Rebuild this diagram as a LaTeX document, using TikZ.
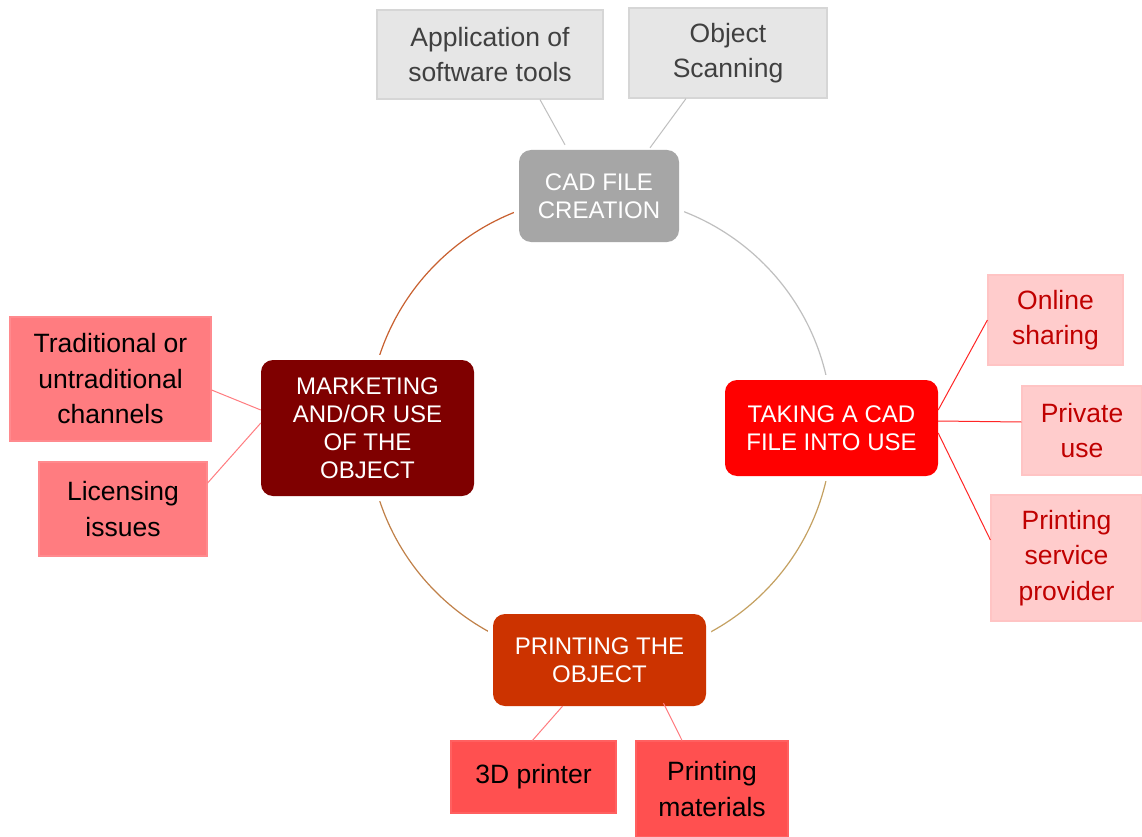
\documentclass[tikz,border=0pt]{standalone}
\usepackage{fontspec}
\setmainfont{Liberation Sans}
\usetikzlibrary{calc}
\definecolor{cadgray}{HTML}{A6A6A6}
\definecolor{takered}{HTML}{FF0000}
\definecolor{printorange}{HTML}{CC3300}
\definecolor{markmaroon}{HTML}{7F0000}
\definecolor{leafgray}{HTML}{E6E6E6}
\definecolor{leafgrayline}{HTML}{D6D6D6}
\definecolor{leafpale}{HTML}{FFCCCC}
\definecolor{leafpaleline}{HTML}{FFC4C4}
\definecolor{leafsalmon}{HTML}{FF7C80}
\definecolor{leafsalmonline}{HTML}{FF8A8E}
\definecolor{leafred}{HTML}{FF5050}
\definecolor{leafredline}{HTML}{FF6060}
\definecolor{txtgray}{HTML}{404040}
\definecolor{txtred}{HTML}{C00000}
\definecolor{arcTRc}{HTML}{BFBFBF}
\definecolor{arcBRc}{HTML}{C4A060}
\definecolor{arcBLc}{HTML}{C08048}
\definecolor{arcTLc}{HTML}{C8602F}
\begin{document}
\begin{tikzpicture}[x=1pt,y=-1pt,
  hub/.style={rounded corners=12pt, text=white, align=center, inner sep=0pt,
    font=\fontsize{24}{28}\selectfont,
    preaction={draw=white, line width=10pt}},
  leaf/.style={line width=1.2pt, align=center, inner sep=0pt,
    font=\fontsize{26.5}{35.5}\selectfont},
  grayleaf/.style={leaf, fill=leafgray, draw=leafgrayline, text=txtgray},
  paleleaf/.style={leaf, fill=leafpale, draw=leafpaleline, text=txtred},
  salmonleaf/.style={leaf, fill=leafsalmon, draw=leafsalmonline, text=black},
  redleaf/.style={leaf, fill=leafred, draw=leafredline, text=black},
  graylink/.style={draw=arcTRc, line width=1pt},
  redlink/.style={draw=red!85, line width=1pt},
  pinklink/.style={draw=leafsalmon, line width=1pt},
  ring/.style={line width=1.2pt}
]
\useasboundingbox (0,0) rectangle (1142,837);
\fill[white] (0,0) rectangle (1142,837);

% ring
\coordinate (O) at (600,428);
\draw[ring, arcTRc] ($(O)+(90:232pt)$) arc[start angle=90, end angle=0, radius=232pt];
\draw[ring, arcBRc] ($(O)+(0:232pt)$) arc[start angle=0, end angle=-90, radius=232pt];
\draw[ring, arcBLc] ($(O)+(-90:232pt)$) arc[start angle=-90, end angle=-180, radius=232pt];
\draw[ring, arcTLc] ($(O)+(180:232pt)$) arc[start angle=180, end angle=90, radius=232pt];

% hubs
\node[hub, fill=cadgray, minimum width=160pt, minimum height=92pt] (cad) at (599,196) {CAD FILE\\CREATION};
\node[hub, fill=takered, minimum width=213pt, minimum height=96pt] (take) at (831.5,428) {TAKING A CAD\\FILE INTO USE};
\node[hub, fill=printorange, minimum width=213pt, minimum height=92pt] (print) at (599.5,660) {PRINTING THE\\OBJECT};
\node[hub, fill=markmaroon, minimum width=213pt, minimum height=136pt] (mark) at (367.5,428) {MARKETING\\AND/OR USE\\OF THE\\OBJECT};

% leaves
\node[grayleaf, minimum width=226pt, minimum height=89pt] (app) at (490,54.5) {Application of\\software tools};
\node[grayleaf, minimum width=198pt, minimum height=90pt] (scan) at (728,53) {Object\\Scanning};
\node[paleleaf, minimum width=135pt, minimum height=90pt] (online) at (1055.5,320) {Online\\sharing};
\node[paleleaf, minimum width=120pt, minimum height=89pt] (private) at (1082,430.5) {Private\\use};
\node[paleleaf, minimum width=151pt, minimum height=126pt] (pserv) at (1066.5,558) {Printing\\service\\provider};
\node[salmonleaf, minimum width=201pt, minimum height=124pt] (trad) at (110.5,379) {Traditional or\\untraditional\\channels};
\node[salmonleaf, minimum width=168pt, minimum height=94pt] (lic) at (123,509) {Licensing\\issues};
\node[redleaf, minimum width=165pt, minimum height=72pt] (p3d) at (533.5,777) {3D printer};
\node[redleaf, minimum width=152pt, minimum height=96pt] (pmat) at (712,789) {Printing\\materials};

% links
\draw[graylink] ([xshift=50pt]app.south) -- ([xshift=-34pt,yshift=5pt]cad.north);
\draw[graylink] ([xshift=-42pt]scan.south) -- ([xshift=51pt,yshift=2pt]cad.north);
\draw[redlink] ([yshift=18pt]take.east) -- (online.west);
\draw[redlink] ([yshift=7pt]take.east) -- ([yshift=8.5pt]private.west);
\draw[redlink] ([yshift=-5pt]take.east) -- ([yshift=18pt]pserv.west);
\draw[pinklink] ([yshift=18pt]mark.west) -- ([yshift=-11pt]trad.east);
\draw[pinklink] ([yshift=5pt]mark.west) -- ([yshift=26pt]lic.east);
\draw[pinklink] ([xshift=-37pt]print.south) -- ([xshift=-1pt]p3d.north);
\draw[pinklink] ([xshift=64pt,yshift=3pt]print.south) -- ([xshift=-30pt]pmat.north);
\end{tikzpicture}
\end{document}
